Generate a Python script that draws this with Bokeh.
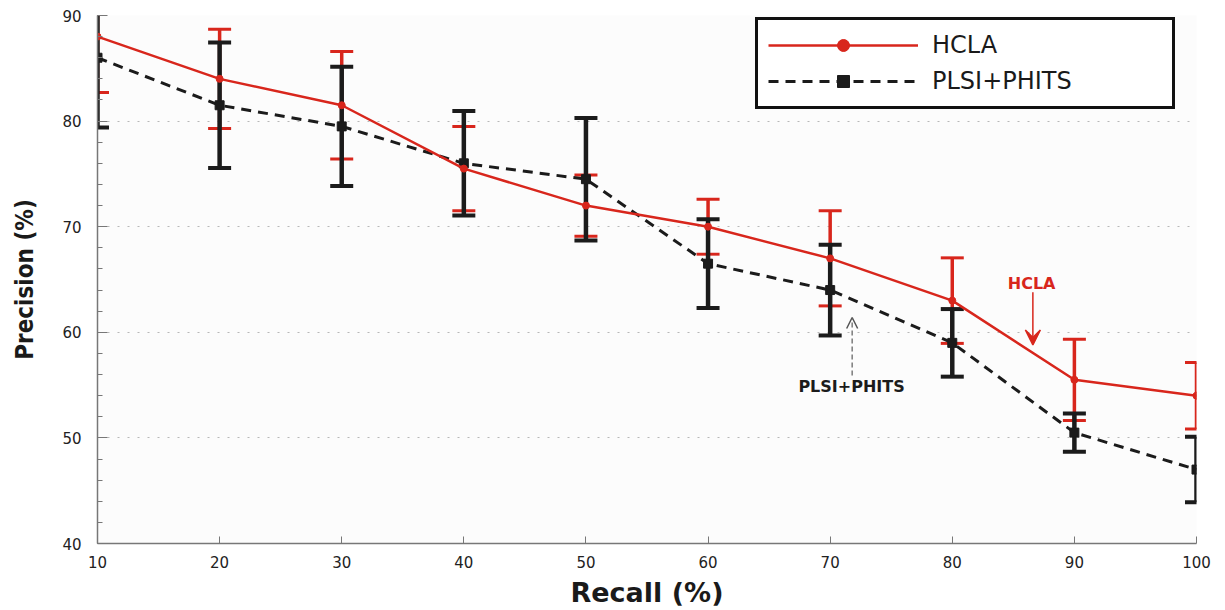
from bokeh.plotting import figure
from bokeh.models import (Legend, LegendItem, ColumnDataSource, Arrow, VeeHead,
                          OpenHead, FixedTicker)
from bokeh.core.properties import value
from bokeh.embed import file_html
from bokeh.resources import INLINE

# ---------------- data ----------------
recall = [10, 20, 30, 40, 50, 60, 70, 80, 90, 100]
hcla = [88, 84, 81.5, 75.5, 72, 70, 67, 63, 55.5, 54]
hcla_err = [5.3, 4.7, 5.1, 4.0, 2.9, 2.6, 4.5, 4.05, 3.85, 3.15]
plsi = [86, 81.5, 79.5, 76, 74.5, 66.5, 64, 59, 50.5, 47]
plsi_err = [6.6, 5.95, 5.65, 4.95, 5.8, 4.2, 4.3, 3.2, 1.8, 3.1]
x_ticks = [10, 20, 30, 40, 50, 60, 70, 80, 90, 100]
y_ticks = [40, 50, 60, 70, 80, 90]
series_names = ["HCLA", "PLSI+PHITS"]

# annotation positions (data coords)
hcla_note = dict(x=86.5, y=64.6, ax=86.6, ay0=63.8, ay1=58.8)
plsi_note = dict(x=71.75, y=54.9, ax=71.8, ay0=55.9, ay1=61.4)

RED = "#d8261c"
BLACK = "#1b1b1b"

src = ColumnDataSource(dict(
    x=recall,
    h=hcla, h_lo=[v - e for v, e in zip(hcla, hcla_err)], h_hi=[v + e for v, e in zip(hcla, hcla_err)],
    p=plsi, p_lo=[v - e for v, e in zip(plsi, plsi_err)], p_hi=[v + e for v, e in zip(plsi, plsi_err)],
))

p = figure(width=1225, height=610, output_backend="svg", toolbar_location=None,
           x_range=(10, 100), y_range=(40, 90),
           min_border_left=97, min_border_right=29, min_border_top=15, min_border_bottom=65)
p.outline_line_color = None
p.background_fill_color = "#fcfcfc"
p.border_fill_color = "white"

# error bars: red first, black over
p.segment(x0="x", y0="h_lo", x1="x", y1="h_hi", source=src, line_color=RED, line_width=3.5)
p.scatter(x="x", y="h_lo", source=src, marker="dash", size=23, line_color=RED, line_width=3)
p.scatter(x="x", y="h_hi", source=src, marker="dash", size=23, line_color=RED, line_width=3)
p.segment(x0="x", y0="p_lo", x1="x", y1="p_hi", source=src, line_color=BLACK, line_width=4.5)
p.scatter(x="x", y="p_lo", source=src, marker="dash", size=23, line_color=BLACK, line_width=4)
p.scatter(x="x", y="p_hi", source=src, marker="dash", size=23, line_color=BLACK, line_width=4)

# lines
pl = p.line(x="x", y="p", source=src, line_color=BLACK, line_width=3, line_dash="10 7")
ps = p.scatter(x="x", y="p", source=src, marker="square", size=9, fill_color=BLACK, line_color=BLACK)
hl = p.line(x="x", y="h", source=src, line_color=RED, line_width=2.5)
hs = p.scatter(x="x", y="h", source=src, marker="circle", size=7, fill_color=RED, line_color=RED)

# annotations
p.text(x=[hcla_note["x"]], y=[hcla_note["y"]], text=[series_names[0]], text_color=RED,
       text_font=value("DejaVu Sans"), text_font_style="bold", text_font_size="16px",
       text_align="center", text_baseline="middle")
p.add_layout(Arrow(end=VeeHead(size=15, fill_color=RED, line_color=RED, line_width=1.5),
                   x_start=hcla_note["ax"], y_start=hcla_note["ay0"],
                   x_end=hcla_note["ax"], y_end=hcla_note["ay1"],
                   line_color=RED, line_width=1.5))
p.text(x=[plsi_note["x"]], y=[plsi_note["y"]], text=[series_names[1]], text_color=BLACK,
       text_font=value("DejaVu Sans"), text_font_style="bold", text_font_size="16px",
       text_align="center", text_baseline="middle")
p.add_layout(Arrow(end=OpenHead(size=11, line_color="#555555", line_width=1.5),
                   x_start=plsi_note["ax"], y_start=plsi_note["ay0"],
                   x_end=plsi_note["ax"], y_end=plsi_note["ay1"],
                   line_color="#666666", line_width=1.3, line_dash="5 3"))

# axes
for ax in (p.xaxis[0], p.yaxis[0]):
    ax.axis_line_color = "#777777"
    ax.axis_line_width = 1.5
    ax.major_tick_line_color = "#777777"
    ax.minor_tick_line_color = "#777777"
    ax.major_tick_out = 0
    ax.minor_tick_out = 0
    ax.major_label_text_font = "DejaVu Sans"
    ax.major_label_text_font_size = "15px"
    ax.major_label_text_color = "#222222"
    ax.axis_label_text_font_style = "bold"
    ax.axis_label_text_color = "#1a1a1a"

p.xaxis.ticker = FixedTicker(ticks=x_ticks)
p.xaxis.major_tick_in = 7
p.xaxis.minor_tick_in = 0
p.xaxis.major_label_standoff = 12
p.xaxis.axis_label = "Recall (%)"
p.xaxis.axis_label_text_font = "DejaVu Sans"
p.xaxis.axis_label_text_font_size = "27px"
p.xaxis.axis_label_standoff = 6

p.yaxis.ticker = FixedTicker(ticks=y_ticks, minor_ticks=[v for v in range(40, 91, 2)])
p.yaxis.major_tick_in = 10
p.yaxis.minor_tick_in = 5
p.yaxis.major_label_standoff = 16
p.yaxis.axis_label = "Precision (%)"
p.yaxis.axis_label_text_font = "'DejaVu Sans Condensed', 'Liberation Sans'"
p.yaxis.axis_label_text_font_size = "24px"
p.yaxis.axis_label_standoff = 20

p.xgrid.grid_line_color = None
p.ygrid.grid_line_color = "#b8b8b8"
p.ygrid.grid_line_dash = "2 8"
p.ygrid.grid_line_width = 1.2

legend = Legend(items=[
    LegendItem(label=series_names[0], renderers=[hl, hs]),
    LegendItem(label=series_names[1], renderers=[pl, ps]),
], location=(658, 434))
legend.border_line_color = "#111111"
legend.border_line_alpha = 1
legend.border_line_width = 3
legend.background_fill_color = "white"
legend.background_fill_alpha = 1
legend.padding = 10
legend.margin = 0
legend.spacing = 6
legend.glyph_width = 150
legend.glyph_height = 30
legend.label_height = 30
legend.label_width = 230
legend.label_standoff = 14
legend.label_text_font = "DejaVu Sans"
legend.label_text_font_size = "24px"
legend.label_text_color = "#1a1a1a"
p.add_layout(legend)

open("out.html", "w").write(file_html(p, INLINE))
